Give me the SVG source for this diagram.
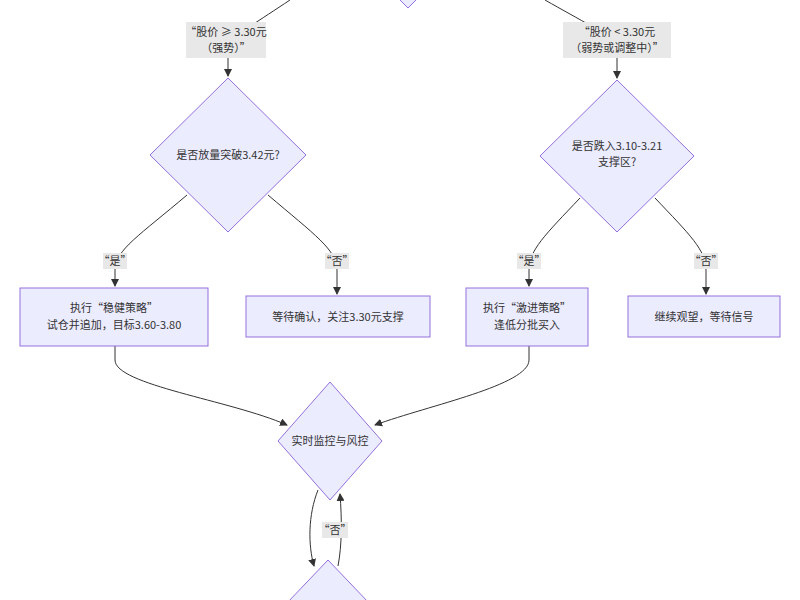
<svg xmlns="http://www.w3.org/2000/svg" width="800" height="600" viewBox="0 0 800 600">
<style>
.n{fill:#ececff;stroke:#9370db;stroke-width:1}
.t{font-family:"Noto Sans CJK SC","Noto Sans",sans-serif;font-size:11px;fill:#333;text-anchor:middle}
.e{fill:none;stroke:#333;stroke-width:1}
.lb{fill:#e8e8e8}
</style>
<defs><marker id="a" markerWidth="8" markerHeight="8" refX="7" refY="4" orient="auto"><path d="M0,0L8,4L0,8z" fill="#333"/></marker></defs>
<rect width="800" height="600" fill="#fff"/>
<g id="connectors">
<path class="e" d="M290,0 C260,20 235,35 228,45 L228,76" marker-end="url(#a)"/>
<path class="e" d="M545,0 C580,20 610,35 617,45 L617,78" marker-end="url(#a)"/>
<path class="e" d="M187,195 C140,235 115,250 115,270 L115,286" marker-end="url(#a)"/>
<path class="e" d="M268,195 C315,235 337,250 337,270 L337,294" marker-end="url(#a)"/>
<path class="e" d="M580,198 C545,235 529,250 529,270 L529,286" marker-end="url(#a)"/>
<path class="e" d="M655,198 C690,235 706,250 706,270 L706,294" marker-end="url(#a)"/>
<path class="e" d="M115,346 L115,360 C115,385 230,400 287,425" marker-end="url(#a)"/>
<path class="e" d="M529,346 L529,360 C529,385 430,405 375,425" marker-end="url(#a)"/>
<path class="e" d="M318,490 C308,515 308,545 314,566" marker-end="url(#a)"/>
<path class="e" d="M338,566 C342,545 342,520 340,494" marker-end="url(#a)"/>
</g>
<g id="edge-labels">
<rect class="lb" x="186" y="22" width="80" height="36"/>
<text class="t" x="226" y="36">“股价 ≥ 3.30元</text><text class="t" x="226" y="52">（强势）”</text>
<rect class="lb" x="563" y="22" width="108" height="36"/>
<text class="t" x="617" y="36">“股价 &lt; 3.30元</text><text class="t" x="617" y="52">（弱势或调整中）”</text>
<rect class="lb" x="103" y="253" width="24" height="16"/><text class="t" x="115" y="265">“是”</text>
<rect class="lb" x="325" y="253" width="24" height="16"/><text class="t" x="337" y="265">“否”</text>
<rect class="lb" x="517" y="253" width="24" height="16"/><text class="t" x="529" y="265">“是”</text>
<rect class="lb" x="694" y="253" width="24" height="16"/><text class="t" x="706" y="265">“否”</text>
<rect class="lb" x="322" y="522" width="26" height="16"/><text class="t" x="335" y="534">“否”</text>
</g>
<g id="top"><polygon class="n" points="408,8 478,-62 408,-132 338,-62"/></g>
<g id="d1"><polygon class="n" points="228,78 306,155 228,232 150,155"/><text class="t" x="228" y="159">是否放量突破3.42元?</text></g>
<g id="d2"><polygon class="n" points="617,80 694,156 617,232 540,156"/><text class="t" x="617" y="150">是否跌入3.10-3.21</text><text class="t" x="617" y="166">支撑区?</text></g>
<g id="b1"><rect class="n" x="20" y="288" width="188" height="58"/><text class="t" x="114" y="312">执行“稳健策略”</text><text class="t" x="114" y="329">试仓并追加，目标3.60-3.80</text></g>
<g id="b2"><rect class="n" x="246" y="296" width="184" height="41"/><text class="t" x="338" y="321">等待确认，关注3.30元支撑</text></g>
<g id="b3"><rect class="n" x="466" y="288" width="122" height="58"/><text class="t" x="527" y="312">执行“激进策略”</text><text class="t" x="527" y="329">逢低分批买入</text></g>
<g id="b4"><rect class="n" x="628" y="296" width="152" height="41"/><text class="t" x="704" y="321">继续观望，等待信号</text></g>
<g id="d3"><polygon class="n" points="330,382 382,441 330,500 278,441"/><text class="t" x="330" y="445">实时监控与风控</text></g>
<g id="d4"><polygon class="n" points="328,560 390,625 328,690 266,625"/></g>
</svg>
